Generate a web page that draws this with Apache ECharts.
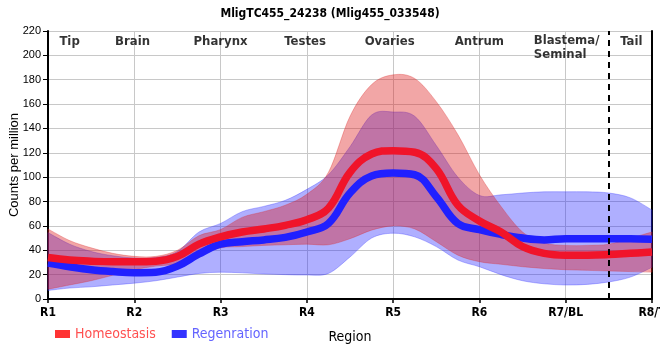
<!DOCTYPE html>
<html><head><meta charset="utf-8">
<script src="https://cdn.jsdelivr.net/npm/echarts@6/dist/echarts.min.js"></script>
<style>html,body{margin:0;padding:0;background:#fff}#c{width:660px;height:360px}</style>
</head><body><div id="c"></div>
<script>
const xs = [1,1.25,1.5,1.75,2,2.25,2.5,2.75,3,3.25,3.5,3.75,4,4.25,4.5,4.75,5,5.25,5.5,5.75,6,6.25,6.5,6.75,7,7.25,7.5,7.75,8];
const homeoMean  = [34,32,31,30.5,30.5,31,35,45,51,55,57.5,60.5,65,74.5,104,119,121.8,120.5,107,77,64,55,43,37.5,36,36,36.5,37.5,38.5];
const homeoUpper = [57.5,48,42,37.5,35,35,40,52,57,67,71.7,77,86,104,150,176,184,181,162,135,102,76,55,46,44,44,45,50,55];
const homeoLower = [8,11.5,15,19.5,24,27,29,36,42,43,44,44.5,45,44.5,49.5,56.5,60,57.5,47,36,30.6,28.5,26.5,25,24,23.5,23,22.5,22];
const regenMean  = [29.5,26.5,24,22.5,21.6,22,27,37,45,47,48.5,50.6,55,62,87,101,103.4,102,84,62,57,53,50,48.5,49.5,49.5,49.5,49.5,49];
const regenUpper = [54.5,45,39,35.5,33.6,34,39,55,62,71.7,76,81,90,102,125,151,153.5,150,126,100,85,85.5,87,88,88,88,87,83,73];
const regenLower = [7,9,10,11.5,13,15,18,21,22,21.5,20.5,20,19.7,21,34.5,50,54,51,43,32,26.5,20,15,12.5,11.5,12,14,18,26];
const xLabels = ['R1','R2','R3','R4','R5','R6','R7/BL','R8/T'];
const yTicks = [0,20,40,60,80,100,120,140,160,180,200,220];
const regionNames = ['Tip','Brain','Pharynx','Testes','Ovaries','Antrum','Blastema/\nSeminal','Tail'];
const regionX = [1.25,1.98,3.0,3.98,4.96,6.0,6.63,7.76];
const regionY = [211.5,211.5,211.5,211.5,211.5,211.5,206,211.5];
const dividerX = 7.5;

const COND = "'Liberation Sans Narrow','Arial Narrow','DejaVu Sans Condensed',sans-serif";
const pts = a => xs.map((x,i)=>[x,a[i]]);

function curve(p){
  const k = 1/6; let d = '';
  for (let i=0;i<p.length-1;i++){
    const p0=p[i-1]||p[i], p1=p[i], p2=p[i+1], p3=p[i+2]||p[i+1];
    const c1=[p1[0]+(p2[0]-p0[0])*k, p1[1]+(p2[1]-p0[1])*k];
    const c2=[p2[0]-(p3[0]-p1[0])*k, p2[1]-(p3[1]-p1[1])*k];
    d += 'C'+c1[0].toFixed(2)+' '+c1[1].toFixed(2)+' '+c2[0].toFixed(2)+' '+c2[1].toFixed(2)+' '+p2[0].toFixed(2)+' '+p2[1].toFixed(2);
  }
  return d;
}
function band(upper, lower, fill, stroke){
  return function(params, api){
    if (params.dataIndex !== 0) return null;
    const up = xs.map((x,i)=>api.coord([x, upper[i]]));
    const lo = xs.map((x,i)=>api.coord([x, lower[i]])).reverse();
    const d = 'M'+up[0][0]+' '+up[0][1]+curve(up)+'L'+lo[0][0]+' '+lo[0][1]+curve(lo)+'Z';
    return {type:'path', shape:{pathData:d}, style:{fill:fill, stroke:stroke, lineWidth:1}};
  };
}

const chart = echarts.init(document.getElementById('c'));
chart.setOption({
  animation:false,
  title:{text:'MligTC455_24238 (Mlig455_033548)',left:'center',top:3,
    textStyle:{fontFamily:COND,fontWeight:'bold',fontSize:12,color:'#000'}},
  grid:{left:48,right:8,top:31,bottom:61,containLabel:false,outerBoundsMode:'none'},
  legend:{left:50,top:322,itemWidth:15,itemHeight:8,itemGap:16,icon:'rect',
    textStyle:{fontFamily:COND,fontSize:14},
    data:[{name:'Homeostasis',itemStyle:{color:'#ff3333'},textStyle:{color:'#ff5050'}},
          {name:'Regenration',itemStyle:{color:'#3333ff'},textStyle:{color:'#6464ff'}}]},
  xAxis:{type:'value',min:1,max:8,interval:1,
    name:'Region',nameLocation:'middle',nameGap:31,nameMoveOverlap:false,
    nameTextStyle:{fontFamily:COND,fontSize:14,color:'#000'},
    axisLine:{lineStyle:{color:'#000',width:2}},
    axisTick:{show:true,length:4,lineStyle:{color:'#000',width:1.5}},
    axisLabel:{formatter:v=>xLabels[Math.round(v)-1],fontFamily:COND,fontWeight:'bold',fontSize:12,color:'#000',margin:8,
      alignMinLabel:'center',alignMaxLabel:'center'},
    splitLine:{show:true,lineStyle:{color:'#c8c8c8',width:1}}},
  yAxis:[{type:'value',min:yTicks[0],max:yTicks[yTicks.length-1],interval:20,
    name:'Counts per million',nameLocation:'middle',nameGap:27,nameMoveOverlap:false,
    nameTextStyle:{fontFamily:"'Liberation Sans',Arial,sans-serif",fontSize:13,color:'#000'},
    axisLine:{show:true,lineStyle:{color:'#000',width:2}},
    axisTick:{show:true,length:5,lineStyle:{color:'#000',width:1}},
    axisLabel:{fontFamily:"'Liberation Sans',Arial,sans-serif",fontSize:11,color:'#000',margin:7},
    splitLine:{show:true,lineStyle:{color:'#c8c8c8',width:1}}},
    {type:'value',position:'right',min:0,max:220,interval:20,
    axisLine:{show:true,lineStyle:{color:'#000',width:2}},axisTick:{show:false},axisLabel:{show:false},splitLine:{show:false}}],
  series:[
    {name:'regenBand',type:'custom',silent:true,data:[[xs[0],regenLower[0]]],
      renderItem:band(regenUpper,regenLower,'rgba(20,20,255,0.34)','rgba(60,60,255,0.35)')},
    {name:'Regenration',type:'line',data:pts(regenMean),smooth:0.4,symbol:'none',
      lineStyle:{width:7.5,color:'#2020ff'},itemStyle:{color:'#3333ff'}},
    {name:'homeoBand',type:'custom',silent:true,data:[[xs[0],homeoLower[0]]],
      renderItem:band(homeoUpper,homeoLower,'rgba(222,20,20,0.38)','rgba(220,40,40,0.3)')},
    {name:'Homeostasis',type:'line',data:pts(homeoMean),smooth:0.4,symbol:'none',
      lineStyle:{width:7.5,color:'#f0142a'},itemStyle:{color:'#ff3333'},
      markLine:{silent:true,symbol:'none',label:{show:false},
        lineStyle:{color:'#000',width:2,type:[6,5]},data:[{xAxis:dividerX}]}},
    {name:'regions',type:'scatter',symbolSize:0,z:10,silent:true,
      data:regionNames.map((n,i)=>({value:[regionX[i],regionY[i]],name:n,
        label: n.indexOf('\n')>=0 ? {align:'left'} : {}})),
      label:{show:true,position:'inside',formatter:p=>p.name,fontFamily:COND,fontWeight:'bold',fontSize:13,color:'#000',lineHeight:14}}
  ]
});
</script></body></html>
